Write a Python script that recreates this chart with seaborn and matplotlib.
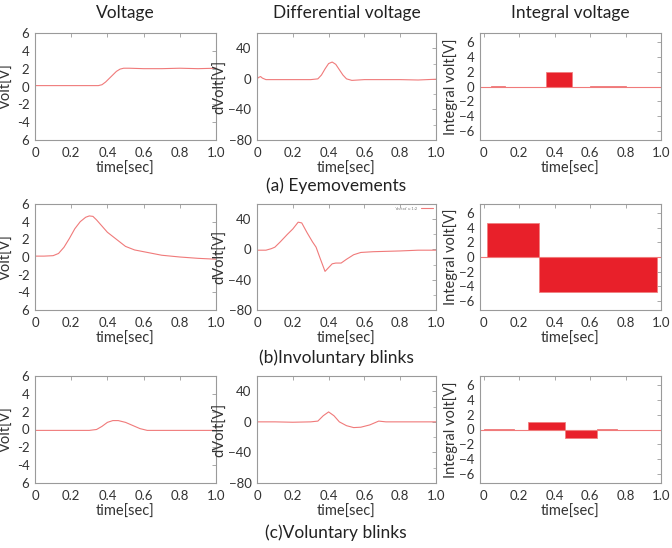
#!/usr/bin/env python3
import numpy as np
import pandas as pd
import matplotlib
matplotlib.use("Agg")
import matplotlib.pyplot as plt
import seaborn as sns

sns.set_style("white")
plt.rcParams["font.family"] = ["Lato", "DejaVu Sans"]

LINE_RED = "#f07a7a"
BAR_RED = "#e8202a"
GREY = "#9a9a9a"

# ---- voltage traces (time in sec, volt in V) ----
volt_a_t = [0.0, 0.1, 0.2, 0.3, 0.35, 0.37, 0.39, 0.41, 0.43, 0.45, 0.47, 0.49, 0.52, 0.6, 0.7, 0.8, 0.9, 1.0]
volt_a_v = [0.1, 0.1, 0.1, 0.1, 0.1, 0.2, 0.5, 0.9, 1.3, 1.7, 1.95, 2.05, 2.05, 2.0, 2.0, 2.05, 2.0, 2.05]

volt_b_t = [0.0, 0.05, 0.1, 0.13, 0.16, 0.19, 0.22, 0.25, 0.28, 0.3, 0.32, 0.34, 0.37, 0.4, 0.45, 0.5, 0.55, 0.6, 0.7, 0.8, 0.9, 1.0]
volt_b_v = [0.1, 0.1, 0.15, 0.4, 1.1, 2.1, 3.2, 4.0, 4.5, 4.65, 4.6, 4.2, 3.5, 2.8, 2.0, 1.2, 0.8, 0.6, 0.2, 0.0, -0.15, -0.25]

volt_c_t = [0.0, 0.1, 0.2, 0.3, 0.34, 0.37, 0.4, 0.43, 0.46, 0.5, 0.54, 0.58, 0.62, 0.7, 0.8, 0.9, 1.0]
volt_c_v = [-0.1, -0.1, -0.1, -0.1, 0.0, 0.35, 0.8, 1.0, 1.0, 0.8, 0.45, 0.1, -0.1, -0.1, -0.1, -0.1, -0.1]

# ---- differential voltage traces ----
dv_a_t = [0.0, 0.01, 0.02, 0.03, 0.05, 0.1, 0.2, 0.3, 0.34, 0.36, 0.38, 0.4, 0.42, 0.44, 0.46, 0.48, 0.5, 0.53, 0.6, 0.7, 0.8, 0.9, 1.0]
dv_a_v = [0.0, 2.0, 3.0, 1.0, -1.0, -1.0, -1.0, -1.0, 0.0, 5.0, 13.0, 20.0, 22.0, 19.0, 12.0, 5.0, 0.0, -2.0, -1.0, -1.0, -1.0, -1.5, -0.5]

dv_b_t = [0.0, 0.05, 0.08, 0.1, 0.13, 0.17, 0.2, 0.23, 0.25, 0.28, 0.31, 0.33, 0.35, 0.38, 0.4, 0.42, 0.44, 0.47, 0.5, 0.54, 0.58, 0.65, 0.8, 0.9, 1.0]
dv_b_v = [-1.0, -1.0, 1.0, 3.0, 10.0, 20.0, 27.0, 36.0, 35.0, 22.0, 10.0, 3.0, -10.0, -29.0, -24.0, -19.0, -18.0, -18.0, -13.0, -7.0, -4.0, -3.0, -2.0, -1.0, -1.0]

dv_c_t = [0.0, 0.1, 0.2, 0.3, 0.34, 0.37, 0.4, 0.43, 0.46, 0.5, 0.54, 0.58, 0.63, 0.66, 0.68, 0.72, 0.8, 0.9, 1.0]
dv_c_v = [0.0, 0.0, -0.5, 0.0, 1.0, 8.0, 13.0, 8.0, 0.0, -5.0, -7.5, -7.0, -4.0, -1.0, 1.0, 0.0, 0.0, 0.0, 0.0]

# ---- integral voltage blocks (left edge, right edge, height) ----
int_a_left = [0.04, 0.12, 0.35, 0.50, 0.60, 0.80]
int_a_right = [0.12, 0.35, 0.50, 0.60, 0.80, 1.00]
int_a_val = [0.06, -0.03, 1.9, -0.06, 0.12, -0.06]

int_b_left = [0.02, 0.31]
int_b_right = [0.31, 0.98]
int_b_val = [4.6, -4.8]

int_c_left = [0.0, 0.17, 0.25, 0.46, 0.64, 0.75]
int_c_right = [0.17, 0.25, 0.46, 0.64, 0.75, 1.0]
int_c_val = [0.1, -0.05, 1.05, -1.1, 0.1, -0.05]

row_titles = ["(a) Eyemovements", "(b)Involuntary blinks", "(c)Voluntary blinks"]
col_titles = ["Voltage", "Differential voltage", "Integral voltage"]

volt_sets = [(volt_a_t, volt_a_v), (volt_b_t, volt_b_v), (volt_c_t, volt_c_v)]
dv_sets = [(dv_a_t, dv_a_v), (dv_b_t, dv_b_v), (dv_c_t, dv_c_v)]
int_sets = [(int_a_left, int_a_right, int_a_val),
            (int_b_left, int_b_right, int_b_val),
            (int_c_left, int_c_right, int_c_val)]

fig = plt.figure(figsize=(6.72, 5.48), dpi=100)

W, H = 672, 548
col_px = [(35, 216), (257, 436), (480, 661)]
row_px = [(33, 140), (204, 310), (376, 483)]
row_title_y = [186, 358, 533]
XT = [0, 0.2, 0.4, 0.6, 0.8, 1.0]
XTL = ["0", "0.2", "0.4", "0.6", "0.8", "1.0"]


def make_ax(c, r):
    x0, x1 = col_px[c]
    y0, y1 = row_px[r]
    return fig.add_axes([x0 / W, 1 - y1 / H, (x1 - x0) / W, (y1 - y0) / H])


def style(ax):
    for sp in ax.spines.values():
        sp.set_color(GREY)
        sp.set_linewidth(0.8)
    ax.tick_params(direction="in", length=3, width=0.6, color=GREY,
                   top=True, right=True, labelsize=9.5, labelcolor="#333333")
    ax.tick_params(axis="x", pad=5)
    ax.tick_params(axis="y", pad=4)
    ax.tick_params(which="minor", direction="in", length=2, width=0.5, color=GREY,
                   top=True, right=True)
    ax.set_xticks(XT)
    ax.set_xticklabels(XTL)
    ax.set_xlabel("time[sec]", fontsize=10.5, color="#333333", labelpad=2)


for r in range(3):
    # Voltage
    ax = make_ax(0, r)
    t, v = volt_sets[r]
    sns.lineplot(x=t, y=v, ax=ax, color=LINE_RED, linewidth=0.8)
    ax.set_xlim(0, 1.0)
    ax.set_ylim(-6, 6)
    ax.set_yticks([6, 4, 2, 0, -2, -4, -6])
    ax.set_yticklabels(["6", "4", "2", "0", "-2", "-4", "6"])
    ax.set_ylabel("Volt[V]", fontsize=10.5, color="#333333", labelpad=2)
    style(ax)

    # Differential voltage
    ax = make_ax(1, r)
    t, v = dv_sets[r]
    sns.lineplot(x=t, y=v, ax=ax, color=LINE_RED, linewidth=0.8,
                 label="'dv.txt' u 1:2" if r == 1 else None)
    ax.set_xlim(0, 1.0)
    ax.set_ylim(-80, 60)
    ax.set_yticks([40, 0, -40, -80])
    ax.set_yticks([20, -20, -60], minor=True)
    ax.set_ylabel("dVolt[V]", fontsize=10.5, color="#333333", labelpad=1)
    style(ax)
    if r == 1:
        leg = ax.legend(loc="upper right", frameon=False, fontsize=3,
                        handlelength=3, borderaxespad=0.3, markerfirst=False)
        for txt in leg.get_texts():
            txt.set_color("#777777")
    elif ax.get_legend() is not None:
        ax.get_legend().remove()

    # Integral voltage
    ax = make_ax(2, r)
    left, right, val = int_sets[r]
    widths = [b - a for a, b in zip(left, right)]
    ax.bar(left, val, width=widths, align="edge", color=BAR_RED,
           edgecolor="#f08080", linewidth=0.6)
    sns.lineplot(x=[-0.02, 1.0], y=[0, 0], ax=ax, color=LINE_RED, linewidth=0.8)
    ax.set_xlim(-0.02, 1.0)
    ax.set_ylim(-7.2, 7.2)
    ax.set_yticks([6, 4, 2, 0, -2, -4, -6])
    ax.set_ylabel("Integral volt[V]", fontsize=10.5, color="#333333", labelpad=1)
    style(ax)

    fig.text(0.5, 1 - row_title_y[r] / H, row_titles[r], ha="center", va="center",
             fontsize=12.5, color="#222222")

col_center = [(a + b) / 2 / W for a, b in col_px]
for c in range(3):
    fig.text(col_center[c], 1 - 13 / H, col_titles[c], ha="center", va="center",
             fontsize=12.5, color="#222222")

fig.savefig("out.png", dpi=100)
